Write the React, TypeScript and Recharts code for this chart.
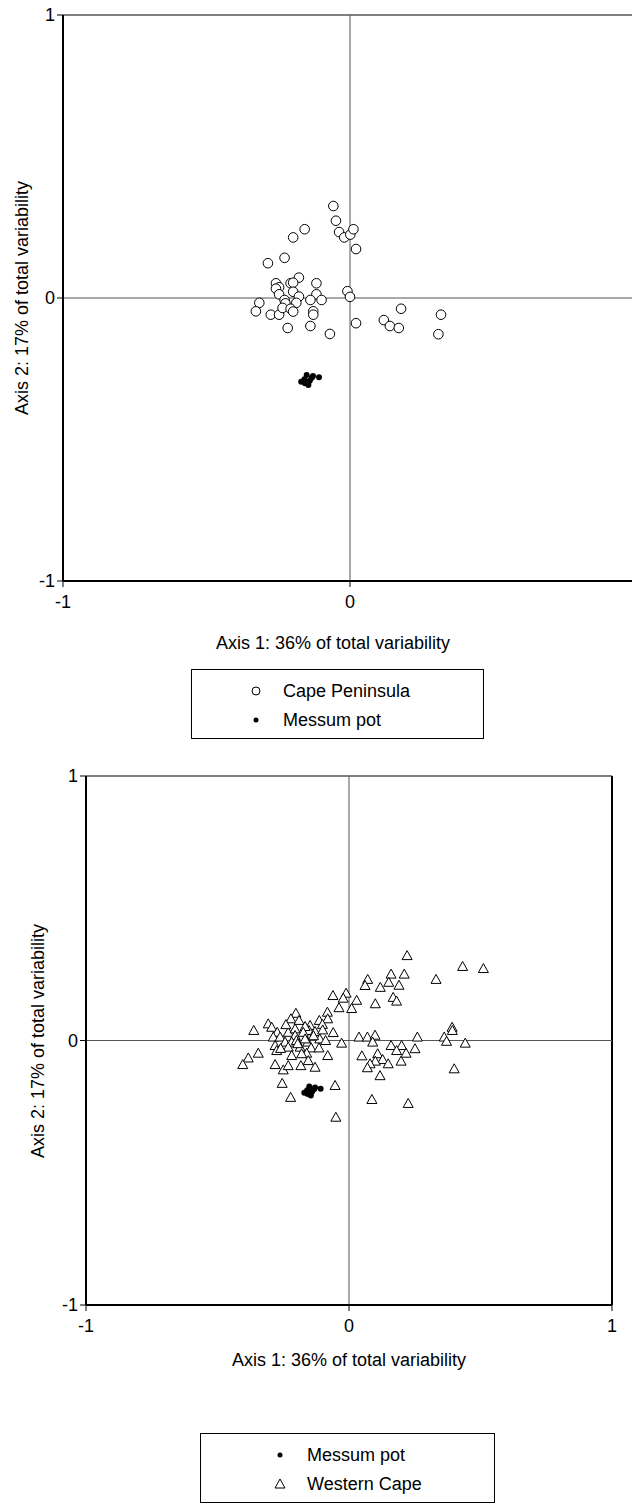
import React from "react";
import {
  ScatterChart,
  Scatter,
  XAxis,
  YAxis,
  ReferenceLine,
} from "recharts";

// axis titles and ticks
const axis1Title = "Axis 1: 36% of total variability";
const axis2Title = "Axis 2: 17% of total variability";
const axisTicks = [-1, 0, 1];

// [axis 1, axis 2] scores, upper plot
const capePeninsula = [
  [-0.058, 0.325], [-0.049, 0.273], [-0.038, 0.233], [-0.02, 0.214], [0.001, 0.224],
  [0.012, 0.243], [0.021, 0.173], [-0.158, 0.243], [-0.198, 0.214], [-0.228, 0.142],
  [-0.286, 0.123], [-0.178, 0.072], [-0.207, 0.052], [-0.198, 0.054], [-0.258, 0.052],
  [-0.247, 0.038], [-0.258, 0.033], [-0.117, 0.052], [-0.198, 0.022], [-0.247, 0.013],
  [-0.178, 0.005], [-0.117, 0.013], [-0.138, -0.007], [-0.099, -0.007], [-0.228, -0.007],
  [-0.187, -0.017], [-0.225, -0.019], [-0.316, -0.017], [-0.328, -0.047], [-0.276, -0.059],
  [-0.247, -0.059], [-0.235, -0.035], [-0.207, -0.038], [-0.198, -0.048], [-0.128, -0.047],
  [-0.128, -0.059], [-0.217, -0.106], [-0.138, -0.099], [-0.07, -0.127], [-0.009, 0.024],
  [0.0, 0.004], [0.021, -0.089], [0.178, -0.038], [0.118, -0.078], [0.139, -0.099],
  [0.17, -0.106], [0.317, -0.059], [0.308, -0.128],
];

const messumPotUpper = [
  [-0.17, -0.296], [-0.159, -0.287], [-0.151, -0.272], [-0.145, -0.307], [-0.133, -0.282],
  [-0.108, -0.28], [-0.157, -0.301], [-0.129, -0.276], [-0.14, -0.292],
];

// lower plot
const messumPotLower = [
  [-0.17, -0.198], [-0.159, -0.188], [-0.151, -0.174], [-0.145, -0.208], [-0.133, -0.184],
  [-0.108, -0.182], [-0.157, -0.202], [-0.129, -0.178], [-0.14, -0.193],
];

const westernCape = [
  [0.221, 0.321], [0.432, 0.28], [0.511, 0.272], [0.331, 0.231], [0.16, 0.251],
  [0.21, 0.251], [0.071, 0.231], [0.061, 0.208], [0.151, 0.22], [0.19, 0.209],
  [0.119, 0.201], [-0.011, 0.179], [-0.022, 0.16], [0.029, 0.152], [0.1, 0.139],
  [0.168, 0.163], [0.181, 0.149], [0.01, 0.121], [-0.038, 0.124], [0.038, 0.013],
  [0.07, 0.013], [0.099, 0.02], [0.09, -0.006], [0.26, 0.013], [0.362, 0.013],
  [0.371, -0.003], [0.392, 0.05], [0.393, 0.038], [0.442, -0.01], [-0.028, -0.01],
  [0.16, -0.019], [0.2, -0.019], [0.251, -0.031], [0.181, -0.038], [0.217, -0.048],
  [0.049, -0.058], [0.109, -0.05], [0.128, -0.072], [0.1, -0.078], [0.08, -0.088],
  [0.149, -0.088], [0.198, -0.078], [0.07, -0.103], [0.4, -0.107], [0.118, -0.133],
  [-0.061, 0.17], [-0.082, 0.107], [-0.081, 0.082], [-0.113, 0.076], [-0.101, 0.061],
  [-0.06, 0.03], [-0.148, 0.057], [-0.152, 0.038], [-0.129, 0.034], [-0.111, 0.006],
  [-0.089, 0.0], [-0.157, -0.006], [-0.144, -0.028], [-0.114, -0.028], [-0.161, -0.048],
  [-0.081, -0.057], [-0.202, 0.103], [-0.221, 0.082], [-0.19, 0.076], [-0.307, 0.063],
  [-0.294, 0.05], [-0.362, 0.038], [-0.273, 0.031], [-0.231, 0.031], [-0.205, 0.044],
  [-0.167, 0.053], [-0.174, 0.031], [-0.288, 0.013], [-0.262, 0.013], [-0.205, 0.019],
  [-0.243, -0.006], [-0.218, -0.006], [-0.167, 0.006], [-0.281, -0.019], [-0.231, -0.025],
  [-0.186, -0.025], [-0.275, -0.038], [-0.345, -0.048], [-0.383, -0.066], [-0.218, -0.057],
  [-0.18, -0.05], [-0.404, -0.091], [-0.281, -0.091], [-0.25, -0.111], [-0.231, -0.095],
  [-0.183, -0.095], [-0.129, -0.101], [-0.155, -0.076], [-0.254, -0.162], [-0.222, -0.215],
  [-0.053, -0.17], [-0.05, -0.29], [0.087, -0.223], [0.225, -0.238], [-0.2, 0.0],
  [-0.135, 0.018], [-0.24, 0.06], [-0.195, -0.012], [-0.26, -0.03], [-0.1, 0.04],
];

const toRows = (pts: number[][]) => pts.map(([x, y]) => ({ x, y }));

const font = '"Liberation Sans", Arial, sans-serif';
const fontSize = 18;

const OpenCircle = (p: any) => (
  <circle cx={p.cx} cy={p.cy} r={4.8} fill="#fff" stroke="#000" strokeWidth={1} />
);
const Dot = (p: any) => <circle cx={p.cx} cy={p.cy} r={3} fill="#000" />;
const Triangle = (p: any) => (
  <path
    d={`M${p.cx},${p.cy - 5} L${p.cx + 5},${p.cy + 4} L${p.cx - 5},${p.cy + 4} Z`}
    fill="#fff"
    stroke="#000"
    strokeWidth={1}
  />
);

const tickStyle = { fontSize, fill: "#000", fontFamily: font };

const Ordination = ({
  width,
  height,
  yWidth,
  top,
  right,
  children,
}: {
  width: number;
  height: number;
  yWidth: number;
  top: number;
  right: number;
  children: React.ReactNode;
}) => (
  <ScatterChart
    width={width}
    height={height}
    margin={{ top, right, bottom: 0, left: 0 }}
  >
    <XAxis
      type="number"
      dataKey="x"
      domain={[-1, 1]}
      ticks={axisTicks}
      tick={tickStyle}
      tickSize={6}
      tickMargin={8}
      height={34}
      axisLine={{ stroke: "#000", strokeWidth: 2 }}
      tickLine={{ stroke: "#000" }}
    />
    <YAxis
      type="number"
      dataKey="y"
      domain={[-1, 1]}
      ticks={axisTicks}
      tick={tickStyle}
      tickSize={6}
      tickMargin={2}
      width={yWidth}
      axisLine={{ stroke: "#000", strokeWidth: 2 }}
      tickLine={{ stroke: "#000" }}
    />
    <ReferenceLine y={1} stroke="#000" strokeWidth={1} />
    <ReferenceLine x={1} stroke="#000" strokeWidth={2} />
    <ReferenceLine y={0} stroke="#555" strokeWidth={1} />
    <ReferenceLine x={0} stroke="#555" strokeWidth={1} />
    {children}
  </ScatterChart>
);

const Legend = ({
  left,
  top,
  width,
  height,
  markerLeft,
  items,
}: {
  left: number;
  top: number;
  width: number;
  height: number;
  markerLeft: number;
  items: { name: string; marker: React.ReactNode }[];
}) => (
  <div
    style={{
      position: "absolute",
      left,
      top,
      width,
      height,
      border: "1px solid #000",
      boxSizing: "border-box",
      fontSize,
    }}
  >
    {items.map((it, i) => (
      <div
        key={it.name}
        style={{
          position: "absolute",
          left: markerLeft,
          top: 9 + i * 29,
          display: "flex",
          alignItems: "center",
          height: 24,
        }}
      >
        <svg width={14} height={14} style={{ marginRight: 20 }}>
          {it.marker}
        </svg>
        <span>{it.name}</span>
      </div>
    ))}
  </div>
);

const Title = ({ x, y, text, vertical }: { x: number; y: number; text: string; vertical?: boolean }) => (
  <div
    style={{
      position: "absolute",
      left: x,
      top: y,
      fontSize,
      whiteSpace: "nowrap",
      transform: `translate(-50%, -50%)${vertical ? " rotate(-90deg)" : ""}`,
    }}
  >
    {text}
  </div>
);

export default function App() {
  return (
    <div
      style={{
        position: "absolute",
        left: 0,
        top: 0,
        width: 632,
        height: 1512,
        overflow: "hidden",
        background: "#fff",
        fontFamily: font,
        color: "#000",
      }}
    >
      {/* Cape Peninsula vs Messum pot */}
      <div style={{ position: "absolute", left: 0, top: 0 }}>
        <Ordination width={650} height={615} yWidth={63} top={15} right={13}>
          <Scatter data={toRows(capePeninsula)} shape={OpenCircle} isAnimationActive={false} />
          <Scatter data={toRows(messumPotUpper)} shape={Dot} isAnimationActive={false} />
        </Ordination>
      </div>
      <Title x={22} y={298} text={axis2Title} vertical />
      <Title x={333} y={643} text={axis1Title} />
      <Legend
        left={191}
        top={669}
        width={293}
        height={70}
        markerLeft={57}
        items={[
          { name: "Cape Peninsula", marker: <circle cx={7} cy={7} r={4} fill="#fff" stroke="#000" /> },
          { name: "Messum pot", marker: <circle cx={7} cy={7} r={2.5} fill="#000" /> },
        ]}
      />

      {/* Western Cape vs Messum pot */}
      <div style={{ position: "absolute", left: 0, top: 760 }}>
        <Ordination width={632} height={579} yWidth={86} top={16} right={20}>
          <Scatter data={toRows(westernCape)} shape={Triangle} isAnimationActive={false} />
          <Scatter data={toRows(messumPotLower)} shape={Dot} isAnimationActive={false} />
        </Ordination>
      </div>
      <Title x={38} y={1041} text={axis2Title} vertical />
      <Title x={349} y={1360} text={axis1Title} />
      <Legend
        left={200}
        top={1433}
        width={295}
        height={70}
        markerLeft={72}
        items={[
          { name: "Messum pot", marker: <circle cx={7} cy={7} r={2.5} fill="#000" /> },
          {
            name: "Western Cape",
            marker: <path d="M7,2 L12,11 L2,11 Z" fill="#fff" stroke="#000" />,
          },
        ]}
      />
    </div>
  );
}
